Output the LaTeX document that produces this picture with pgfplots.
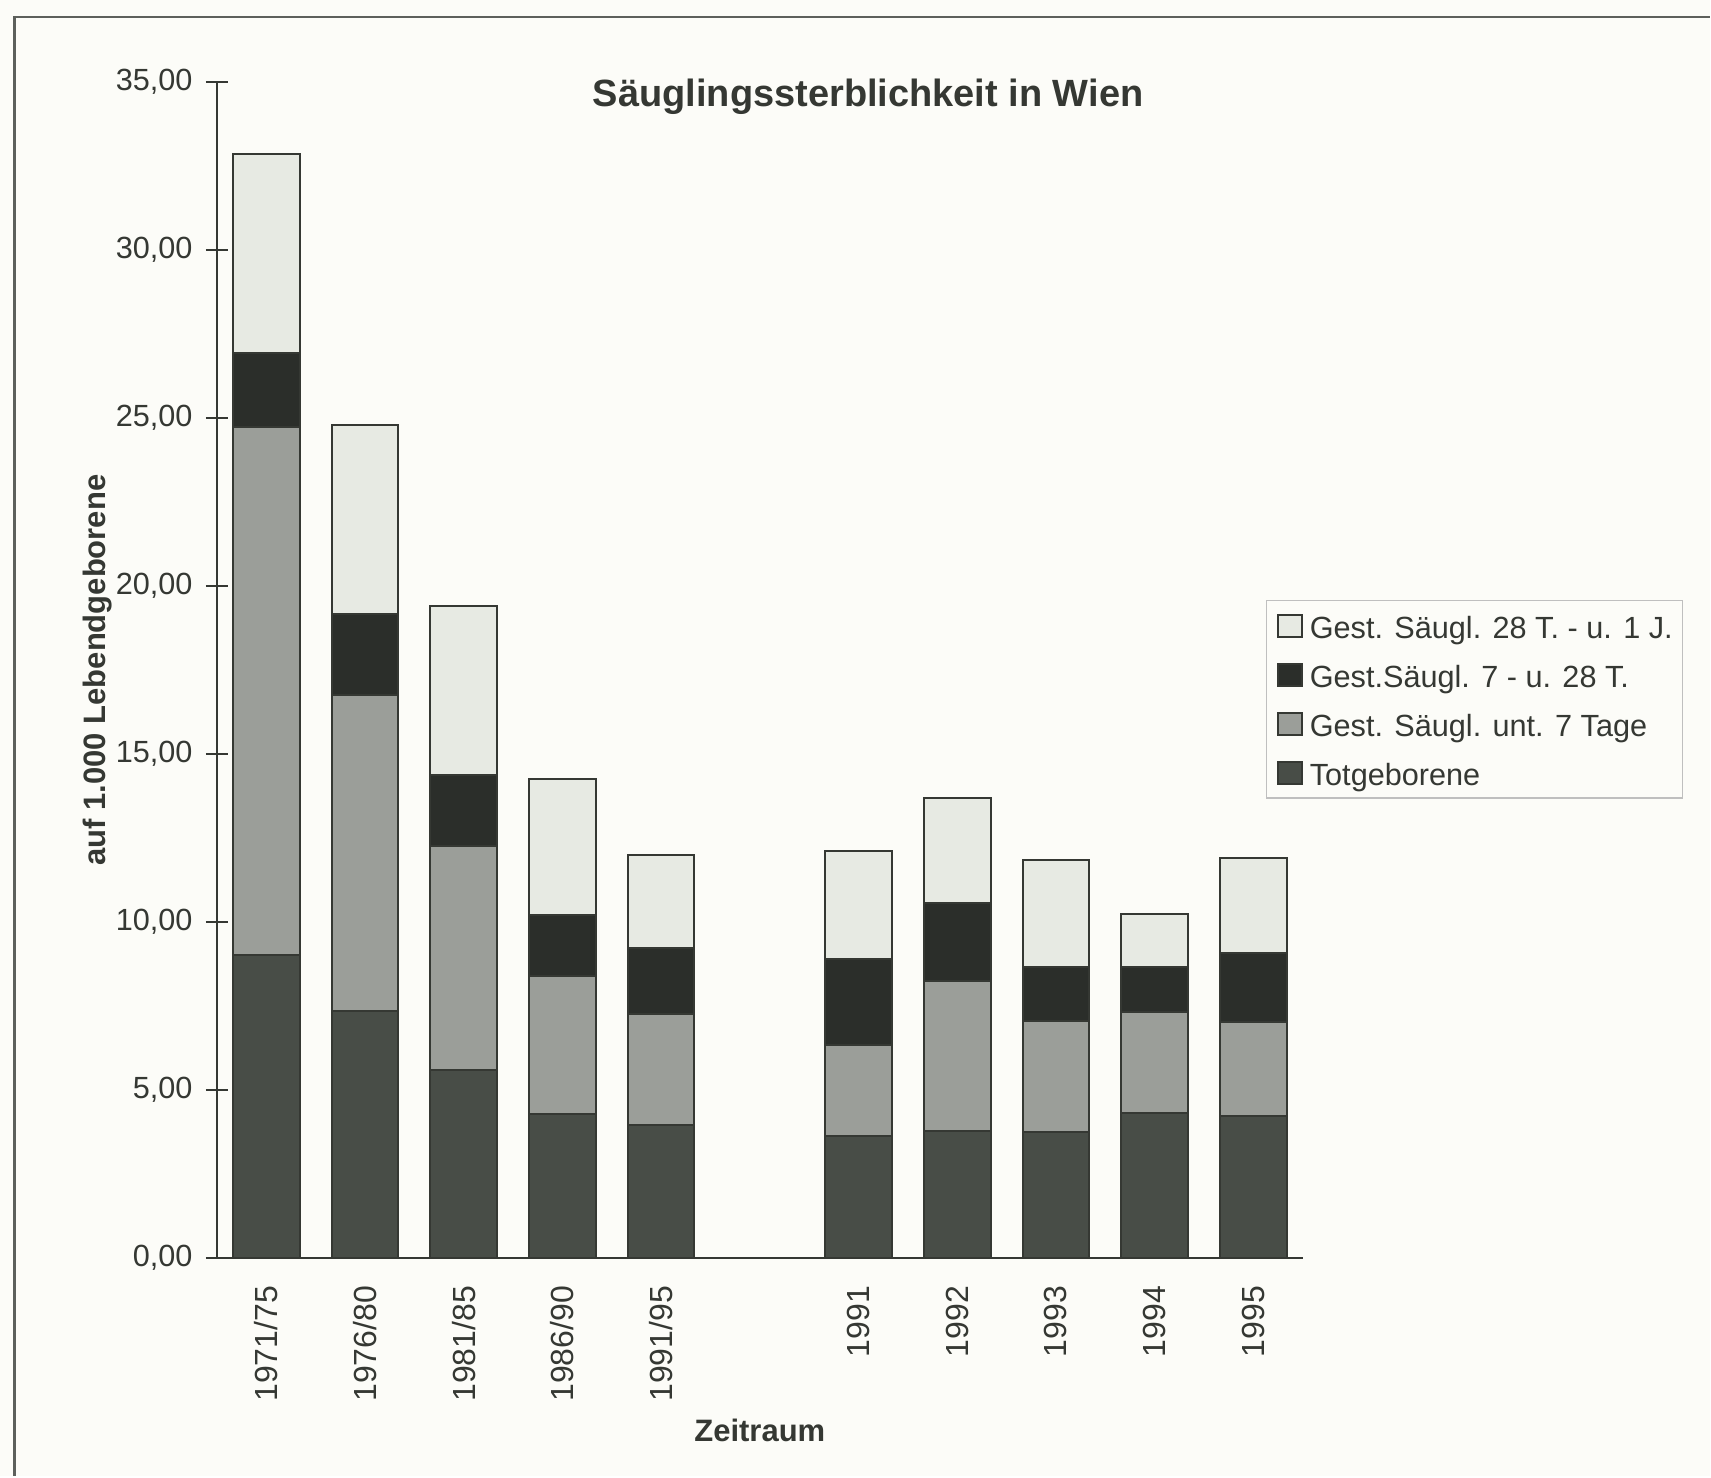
\documentclass[border=0pt]{standalone}
\usepackage{pgfplots}
\usepackage{pgfplotstable}
\pgfplotsset{compat=1.18}
\usepackage{fontspec}
\setmainfont{Liberation Sans}

\definecolor{bg}{HTML}{FCFCF8}
\definecolor{ink}{HTML}{353833}
\definecolor{cTot}{HTML}{484D47}
\definecolor{cUnt}{HTML}{9B9E99}
\definecolor{cMid}{HTML}{2B2E2A}
\definecolor{cJahr}{HTML}{E7EAE3}

% per 1000 live births, stacked from the bottom
\pgfplotstableread{
x  tot   unt7  mid   jahr
0  9.03  15.69 2.22  5.93
1  7.34  9.41  2.41  5.62
2  5.61  6.66  2.12  5.01
3  4.29  4.10  1.83  4.04
4  3.96  3.29  1.97  2.78
6  3.64  2.70  2.55  3.23
7  3.77  4.48  2.32  3.11
8  3.74  3.32  1.61  3.19
9  4.33  3.00  1.34  1.56
10 4.23  2.81  2.03  2.84
}\data

\begin{document}
\begin{tikzpicture}
\fill[bg] (0,0) rectangle (513.3pt,443.1pt);
\draw[ink!80, line width=0.7pt] (4.4pt,0) -- (4.4pt,438.0pt) -- (513.3pt,438.0pt);
\begin{axis}[
    at={(65.1pt,65.4pt)}, anchor=south west,
    scale only axis, width=326.0pt, height=353.1pt,
    xmin=-0.5, xmax=10.5, ymin=0, ymax=35,
    axis lines*=left,
    axis line style={ink, line width=0.7pt},
    ybar stacked, bar width=0.675,
    tick align=center,
    xtick={0,1,2,3,4,6,7,8,9,10},
    xticklabels={1971/75,1976/80,1981/85,1986/90,1991/95,1991,1992,1993,1994,1995},
    xtick style={draw=none},
    minor xtick={-0.5,0.5,...,10.5},
    minor x tick style={ink, line width=0.7pt},
    minor tick length=7.2pt,
    ytick={0,5,...,35},
    major tick length=6.6pt,
    y tick style={ink, line width=0.7pt},
    /pgf/number format/assume math mode=true,
    yticklabel={\pgfmathprintnumber[fixed,fixed zerofill,precision=2,use comma]{\tick}},
    yticklabel style={font=\fontsize{9.2}{10}\selectfont, text=ink, anchor=east, inner sep=0pt, xshift=-3.8pt},
    xticklabel style={font=\fontsize{9.6}{10}\selectfont, text=ink, yshift=-4.9pt, rotate=90, anchor=east, inner sep=0pt},
    title={Säuglingssterblichkeit in Wien},
    title style={at={(axis description cs:0.5997,0.962)}, anchor=base, font=\bfseries\fontsize{11.4}{13}\selectfont, text=ink},
    xlabel={Zeitraum},
    xlabel style={at={(axis description cs:0.5,-0.1555)}, anchor=base, font=\bfseries\fontsize{9.3}{11}\selectfont, text=ink},
    ylabel={auf 1.000 Lebendgeborene},
    ylabel style={at={(axis description cs:-0.1030,0.5)}, rotate=0, anchor=base, font=\bfseries\fontsize{9.3}{11}\selectfont, text=ink},
    reverse legend,
    legend cell align=left,
    legend image code/.code={\draw[#1] (0pt,-3.3pt) rectangle (7.2pt,3.3pt);},
    legend style={at={(axis description cs:0.966,0.5599)}, anchor=north west,
        draw=black!25, fill=bg, font=\fontsize{9.2}{11}\selectfont, text=ink,
        inner xsep=3.0pt, inner ysep=3.3pt, row sep=6pt, column sep=0pt,
        nodes={inner sep=0pt, text height=8.3pt, text depth=0.4pt},
        /tikz/every odd column/.append style={column sep=2.2pt}},
    every axis plot/.append style={draw=ink, line width=0.6pt},
]
\addplot[fill=cTot] table[x=x,y=tot] {\data};
\addplot[fill=cUnt] table[x=x,y=unt7] {\data};
\addplot[fill=cMid] table[x=x,y=mid] {\data};
\addplot[fill=cJahr] table[x=x,y=jahr] {\data};
\legend{Totgeborene, Gest. Säugl. unt. 7 Tage, Gest.Säugl. 7 - u. 28 T., Gest. Säugl. 28 T. - u. 1 J.}
\end{axis}
\end{tikzpicture}
\end{document}
